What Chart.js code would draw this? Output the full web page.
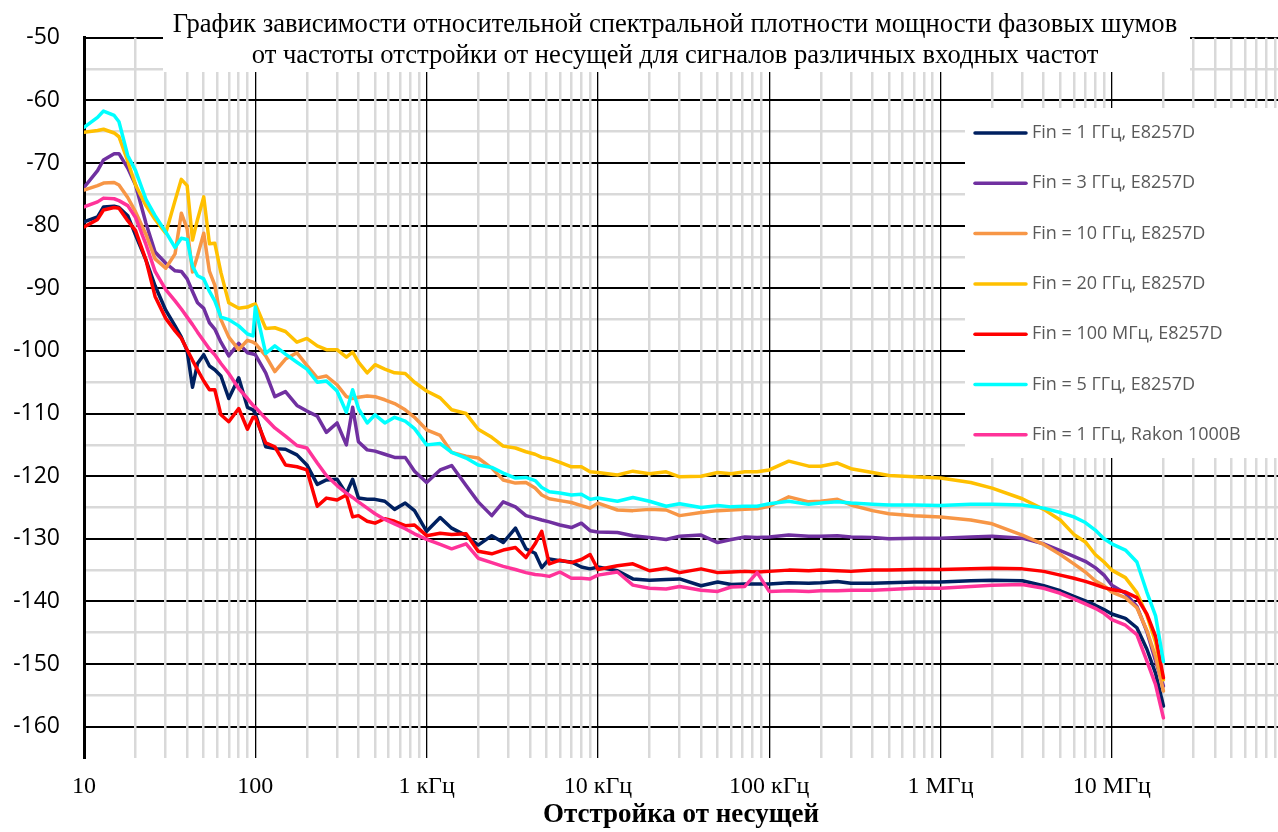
<!DOCTYPE html>
<html lang="ru">
<head>
<meta charset="utf-8">
<title>Фазовые шумы</title>
<script src="https://cdn.jsdelivr.net/npm/chart.js@4.4.0/dist/chart.umd.min.js"></script>
<style>
    html, body { margin: 0; padding: 0; background: #fff; }
    #wrap { width: 1278px; height: 832px; }
</style>
</head>
<body>
<div id="wrap"><canvas id="noiseChart" width="1278" height="832"></canvas></div>
<script>
/* ============================================
   PHASE NOISE vs OFFSET FREQUENCY
   ============================================ */

// Offset frequencies, Hz (shared by all series)
const freqs = [
    10, 12, 13, 15, 16, 18, 20, 23, 26, 30, 34, 37, 40, 43, 46, 50, 54, 58, 63, 70, 80, 90, 97,
    100, 115, 130, 150, 175, 200, 230, 260, 300, 340, 370, 400, 450, 500, 570, 650, 750, 850,
    1000, 1200, 1400, 1700, 2000, 2400, 2800, 3300, 3800, 4300, 4700, 5200, 6000, 7000, 8000, 9000,
    1e4, 1.3e4, 1.6e4, 2e4, 2.5e4, 3e4, 4e4, 5e4, 6e4, 7.2e4, 8.5e4,
    1e5, 1.3e5, 1.7e5, 2e5, 2.5e5, 3e5, 4e5, 5e5, 7e5,
    1e6, 1.5e6, 2e6, 3e6, 4e6, 5e6, 6e6, 7e6, 8e6, 9e6,
    1e7, 1.2e7, 1.4e7, 1.6e7, 1.8e7, 2e7
];

// Phase noise, dBc/Hz
const fin1E = [
    -79.4, -78.6, -77, -76.9, -77.1, -78.4, -81.5, -85.5, -89.6, -93.5, -96, -97.8, -100, -105.8, -102, -100.6, -102.4, -103, -104, -107.6, -104.3, -109, -109.4,
    -110, -115.3, -115.6, -115.7, -116.6, -118.2, -121.3, -120.6, -120.5, -122.8, -120.5, -123.5, -123.7, -123.7, -124, -125.3, -124.3, -125.5,
    -128.8, -126.6, -128.3, -129.5, -131, -129.5, -130.6, -128.3, -131.6, -132.3, -134.6, -133.2, -133.5, -133.7, -134.5, -134.8,
    -134.5, -135.1, -136.4, -136.6, -136.5, -136.4, -137.5, -136.9, -137.3, -137.2, -137.2,
    -137.2, -137, -137.1, -137, -136.8, -137.1, -137.1, -137, -136.9,
    -136.9, -136.7, -136.6, -136.7, -137.5, -138.3, -139.2, -139.9, -140.6, -141.3,
    -142, -142.7, -144.2, -147.6, -151.5, -156.7
];
const fin3E = [
    -73.9, -71.2, -69.5, -68.5, -68.5, -70.8, -73.5, -79.6, -84.2, -86, -87.2, -87.3, -88.5, -90.5, -92.3, -93.2, -95.5, -96.5, -98.6, -100.8, -98.8, -100.3, -100.5,
    -100.6, -103.5, -107.3, -106.5, -108.7, -109.6, -110.4, -113, -111.5, -115, -109, -114.5, -115.8, -116, -116.5, -117, -117, -119.2,
    -121, -119, -118.3, -121.5, -124.1, -126.3, -124.1, -124.9, -126.3, -126.7, -127, -127.3, -127.8, -128.2, -127.5, -128.7,
    -128.9, -129, -129.5, -129.8, -130.1, -129.6, -129.4, -130.6, -130.1, -129.7, -129.8,
    -129.7, -129.4, -129.6, -129.6, -129.5, -129.7, -129.8, -130, -129.9,
    -129.9, -129.7, -129.6, -129.9, -130.8, -131.9, -132.8, -133.6, -134.6, -135.8,
    -137.4, -138.7, -140.8, -144.8, -149.5, -153.5
];
const fin10E = [
    -74.3, -73.6, -73.2, -73.1, -73.5, -75.5, -77.8, -81.4, -85.3, -86.8, -84.5, -78, -80.5, -87.4, -84.8, -81.2, -87.3, -89.5, -95, -97.8, -99.8, -98.3, -98.6,
    -98.8, -100.8, -103.3, -101.3, -100.3, -102.3, -104.3, -104, -105.4, -107.3, -107.6, -107.4, -107.2, -107.3, -107.8, -108.4, -109.4, -110.6,
    -112.6, -113.5, -116.2, -116.8, -117.1, -118.7, -120.6, -121.1, -121, -121.9, -123, -123.6, -123.9, -124.2, -124.7, -125.1,
    -124.3, -125.4, -125.5, -125.3, -125.4, -126.3, -125.8, -125.5, -125.4, -125.3, -125.2,
    -124.8, -123.3, -124.1, -124, -123.7, -124.6, -125.5, -126, -126.3,
    -126.5, -127, -127.6, -129.4, -130.9, -132.5, -134, -135.3, -136.7, -137.5,
    -138.5, -139.4, -141, -144.6, -148.8, -154.3
];
const fin20E = [
    -65.1, -64.8, -64.6, -65.2, -65.8, -69.7, -73.5, -76.8, -79, -81.2, -76, -72.6, -73.6, -82.3, -79, -75.4, -82.9, -82.8, -87.5, -92.3, -93.2, -93, -92.6,
    -92.5, -96.4, -96.3, -96.9, -98.6, -98, -99.2, -99.8, -99.8, -101, -100.2, -101.8, -103.5, -102.2, -102.9, -103.5, -103.6, -105,
    -106.4, -107.5, -109.4, -110, -112.5, -113.8, -115.2, -115.5, -116.1, -116.5, -117, -117.2, -117.8, -118.5, -118.5, -119.3,
    -119.4, -119.8, -119.2, -119.6, -119.3, -120.1, -120, -119.4, -119.6, -119.3, -119.3,
    -119, -117.6, -118.4, -118.4, -117.9, -118.8, -119.4, -119.9, -120.1,
    -120.3, -121, -121.9, -123.6, -125.3, -127, -129.3, -130.5, -132.5, -133.7,
    -135, -136.2, -138.6, -142.2, -146.5, -152.5
];
const fin100M = [
    -80.2, -79, -77.5, -77.1, -77.2, -79.2, -80.8, -85.5, -91.3, -94.8, -96.8, -98, -99.8, -101.5, -103, -104.8, -106.2, -106.2, -110.2, -111.3, -109.2, -112.5, -110.6,
    -110.6, -114.7, -115.3, -118.2, -118.5, -119, -124.8, -123.5, -123.8, -123, -126.5, -126.3, -127.2, -127.5, -126.8, -127.2, -127.9, -127.8,
    -129.5, -129.1, -129.3, -129.2, -132, -132.4, -131.8, -131.4, -133, -130.8, -128.8, -134, -133.4, -133.8, -133.3, -132.5,
    -134.9, -134.3, -134, -135.1, -134.7, -135.4, -134.8, -135.4, -135.3, -135.2, -135.3,
    -135.2, -135, -135.1, -135, -135.1, -135.2, -135, -135, -134.9,
    -134.9, -134.8, -134.7, -134.8, -135.2, -135.8, -136.3, -136.8, -137.3, -137.8,
    -138.1, -138.5, -139.4, -142, -145.6, -152.2
];
const fin5E = [
    -64.3, -62.7, -61.7, -62.4, -63.4, -68.8, -71.2, -75.8, -78.4, -81, -83.5, -82, -82.2, -86.5, -88, -88.5, -90.5, -92, -94.6, -95, -96, -97.3, -97.6,
    -93, -100.4, -99.2, -100.5, -101.8, -102.9, -105, -104.8, -106.4, -109.8, -106.2, -109.2, -111.5, -110.2, -111.5, -110.6, -111.2, -112.4,
    -115, -114.8, -116.2, -117.1, -118.2, -118.6, -119.5, -120.3, -120.2, -120.7, -121.8, -122.5, -122.7, -123, -122.9, -123.7,
    -123.5, -124, -123.4, -124, -124.8, -124.4, -125, -124.7, -124.9, -124.8, -124.8,
    -124.4, -124, -124.5, -124.3, -124.1, -124.3, -124.5, -124.6, -124.6,
    -124.7, -124.5, -124.5, -124.6, -125.1, -125.8, -126.5, -127.4, -128.6, -130,
    -130.8, -131.8, -133.7, -138.5, -142.3, -149.6
];
const fin1Rakon = [
    -77, -76.2, -75.6, -75.7, -76, -76.8, -78.7, -83, -87.3, -90.2, -92, -93.3, -94.6, -95.8, -97, -98.4, -99.7, -100.6, -102, -103.6, -106, -107.6, -108.7,
    -109, -110.8, -112.3, -113.6, -115.1, -115.5, -117.9, -119.9, -121.5, -122.7, -123.4, -124.1, -125.1, -126, -126.9, -127.6, -128.4, -129.2,
    -130.1, -130.9, -131.6, -130.8, -133.1, -133.8, -134.4, -134.9, -135.4, -135.7, -135.8, -136, -135.3, -136.3, -136.3, -136.4,
    -135.8, -135.3, -137.4, -137.9, -138, -137.6, -138.2, -138.4, -137.7, -137.6, -135.4,
    -138.4, -138.3, -138.4, -138.3, -138.3, -138.2, -138.2, -138.1, -137.9,
    -137.9, -137.6, -137.4, -137.3, -137.9, -138.7, -139.6, -140.4, -141.1, -141.9,
    -142.9, -143.8, -145.3, -149.5, -153.3, -158.6
];

const seriesNames = [
    'Fin = 1 ГГц, E8257D',
    'Fin = 3 ГГц, E8257D',
    'Fin = 10 ГГц, E8257D',
    'Fin = 20 ГГц, E8257D',
    'Fin = 100 МГц, E8257D',
    'Fin = 5 ГГц, E8257D',
    'Fin = 1 ГГц, Rakon 1000B'
];
const seriesValues = [fin1E, fin3E, fin10E, fin20E, fin100M, fin5E, fin1Rakon];
const seriesColors = ['#002060', '#7030A0', '#F79646', '#FFC000', '#FF0000', '#00FFFF', '#FF3399'];

// Axis ticks
const xMajorTicks = [10, 100, 1e3, 1e4, 1e5, 1e6, 1e7];
const xMajorLabels = ['10', '100', '1 кГц', '10 кГц', '100 кГц', '1 МГц', '10 МГц'];
const yMajorTicks = [-160, -150, -140, -130, -120, -110, -100, -90, -80, -70, -60, -50];

const titleLines = [
    'График зависимости относительной спектральной плотности мощности фазовых шумов',
    'от частоты отстройки от несущей для сигналов различных входных частот'
];
const xTitle = 'Отстройка от несущей';

const X_MIN = 10;
const X_MAX = 9.33e7;
const Y_MIN = -165;
const Y_MAX = -50;

// minor ticks: 2..9 within each decade, half-steps on y
function buildXTicks() {
    const out = [];
    xMajorTicks.forEach(base => {
        for (let m = 1; m <= 9; m++) {
            const v = base * m;
            if (v >= X_MIN && v <= X_MAX) out.push({ value: v });
        }
    });
    return out;
}
function buildYTicks() {
    const out = [];
    yMajorTicks.forEach((v, i) => {
        out.push({ value: v });
        if (i < yMajorTicks.length - 1) out.push({ value: v + 5 });
    });
    return out;
}
function isMajorX(v) {
    return xMajorTicks.some(t => Math.abs(t - v) / t < 1e-9);
}
function isMajorY(v) {
    return yMajorTicks.includes(v);
}

/**
 * Title drawn over the plot in a white box
 */
const boxedTitle = {
    id: 'boxedTitle',
    afterDraw(chart) {
        const ctx = chart.ctx;
        ctx.save();
        ctx.fillStyle = '#FFFFFF';
        ctx.fillRect(163, 0, 1027, 72);
        ctx.fillStyle = '#000000';
        ctx.font = '26.6px "Liberation Serif", "Times New Roman", serif';
        ctx.textAlign = 'center';
        ctx.textBaseline = 'middle';
        titleLines.forEach((line, i) => ctx.fillText(line, 675, 25 + i * 31));
        ctx.restore();
    }
};

/**
 * Legend box on the right side of the plot
 */
const boxedLegend = {
    id: 'boxedLegend',
    afterDraw(chart) {
        const ctx = chart.ctx;
        ctx.save();
        ctx.fillStyle = '#FFFFFF';
        ctx.fillRect(965, 108, 313, 350);
        ctx.font = '18px "Open Sans", sans-serif';
        ctx.textAlign = 'left';
        ctx.textBaseline = 'middle';
        chart.data.datasets.forEach((ds, i) => {
            const y = 133 + i * 50.3;
            ctx.strokeStyle = ds.borderColor;
            ctx.lineWidth = 3.5;
            ctx.lineCap = 'round';
            ctx.beginPath();
            ctx.moveTo(975, y);
            ctx.lineTo(1026, y);
            ctx.stroke();
            ctx.fillStyle = '#595959';
            ctx.fillText(ds.label, 1032, y);
        });
        ctx.restore();
    }
};

const datasets = seriesValues.map((vals, i) => ({
    label: seriesNames[i],
    data: vals.map((v, k) => ({ x: freqs[k], y: v })),
    borderColor: seriesColors[i],
    backgroundColor: seriesColors[i],
    borderWidth: 3.5,
    borderJoinStyle: 'round',
    borderCapStyle: 'round',
    pointRadius: 0,
    tension: 0,
    order: seriesValues.length - i
}));

new Chart(document.getElementById('noiseChart'), {
    type: 'line',
    data: { datasets },
    options: {
        responsive: false,
        animation: false,
        devicePixelRatio: 1,
        layout: { padding: { top: 37, right: 0, bottom: 0, left: 0 } },
        plugins: {
            legend: { display: false },
            title: { display: false },
            tooltip: { enabled: false }
        },
        scales: {
            y: {
                type: 'linear',
                min: Y_MIN,
                max: Y_MAX,
                afterBuildTicks: s => { s.ticks = buildYTicks(); },
                afterFit: s => { s.width = 84; },
                grid: {
                    drawTicks: false,
                    color: c => isMajorY(c.tick.value) ? '#000000' : '#D9D9D9',
                    lineWidth: c => isMajorY(c.tick.value) ? 2 : 2.5
                },
                border: { display: true, color: '#000000', width: 3 },
                ticks: {
                    padding: 24,
                    color: '#000000',
                    font: { family: 'Open Sans', size: 23 },
                    callback: v => isMajorY(v) ? String(v) : ''
                }
            },
            x: {
                type: 'logarithmic',
                min: X_MIN,
                max: X_MAX,
                afterBuildTicks: s => { s.ticks = buildXTicks(); },
                afterFit: s => {
                    s.height = 74;
                    s.paddingLeft = 0;
                    s.paddingRight = 0;
                },
                grid: {
                    drawTicks: false,
                    color: c => isMajorX(c.tick.value) ? '#000000' : '#D9D9D9',
                    lineWidth: c => isMajorX(c.tick.value) ? 1.3 : 2.5
                },
                border: { display: false },
                ticks: {
                    autoSkip: false,
                    maxRotation: 0,
                    padding: 14,
                    color: '#000000',
                    font: { family: 'Liberation Serif', size: 24 },
                    callback: v => {
                        const idx = xMajorTicks.findIndex(t => Math.abs(t - v) / t < 1e-9);
                        return idx >= 0 ? xMajorLabels[idx] : '';
                    }
                },
                title: {
                    display: true,
                    text: xTitle,
                    color: '#000000',
                    font: { family: 'Liberation Serif', size: 27, weight: 'bold' },
                    padding: { top: 0, bottom: 1 }
                }
            }
        }
    },
    plugins: [boxedTitle, boxedLegend]
});
</script>
</body>
</html>
